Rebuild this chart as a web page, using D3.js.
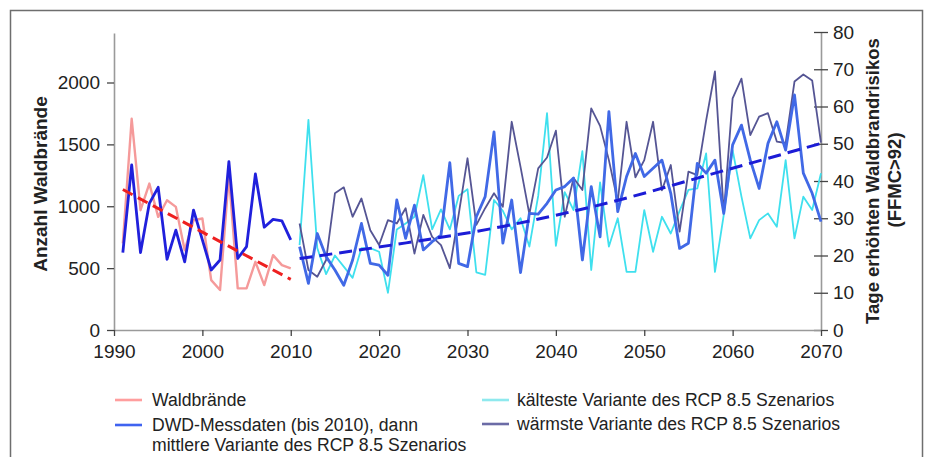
<!DOCTYPE html>
<html><head><meta charset="utf-8">
<script src="https://cdn.jsdelivr.net/npm/d3@7"></script>
<style>
html,body{margin:0;padding:0;background:#fff;}
svg{display:block;font-family:"Liberation Sans",Arial,sans-serif;}
</style></head>
<body>
<svg id="chart" width="926" height="457"></svg>
<script>
// ---------- DATA ----------
const histYears = d3.range(1991, 2011);
const waldbraende = [700,1707,968,1183,914,1048,995,645,887,901,403,323,1250,336,336,551,363,605,524,497];
const dwdMess = [20.8,44.3,20.8,34.0,38.3,19.0,26.8,18.3,32.2,24.2,16.1,18.8,45.2,19.2,22.4,41.9,27.6,29.7,29.3,24.2];

const projYears = d3.range(2011, 2071);
const mittlere = [22.4,12.5,25.9,19.7,16.1,12.0,18.8,28.6,17.9,17.4,14.7,34.9,24.6,33.5,21.5,23.7,25.5,44.9,17.9,17.0,
                  30.4,35.8,53.2,23.3,34.9,15.4,31.3,31.1,34.0,37.6,38.5,40.8,18.8,38.5,25.0,58.6,31.8,41.2,47.4,41.2,
                  43.4,45.6,36.7,21.9,23.3,44.7,42.1,45.6,31.3,49.7,55.0,45.6,38.0,50.1,55.9,48.3,63.1,42.1,36.7,29.1];
const kaelteste = [22.8,56.4,22,15,20,17,14,22,22,21,10,27,28.6,30.4,41.6,27,32.4,27,36,37.8,
                   15.5,14.8,34.9,32,27,30,22.4,36,58.2,22.6,37,32.2,48,16.1,39.6,22.4,30,15.6,15.6,32.2,
                   21.0,30.4,25.9,32,37.6,38,47.4,15.6,31,48.3,35.8,24.6,29.5,31.3,27.7,45.6,24.6,35.8,32.2,42.1];
const waermste = [28.6,16.1,14.3,18.8,36.7,38.3,30.4,35.3,26.8,22.8,29.5,28.6,32.7,20.5,30.9,25.0,22.8,16.6,31,46.1,
                  28.2,32.7,36.7,33.1,55.9,43.8,31.1,43.4,46.3,53.5,30.4,40.8,37.6,59.5,54.8,45.6,34.5,55.9,41.0,45.6,
                  55.9,37.5,44.3,26.4,42.5,41.6,56.2,69.4,31.3,62.2,67.5,52.3,57.3,58.2,50.6,50.2,66.7,68.6,67.0,50.3];

const trendRedYears = [1991, 2010];
const trendRedValues = [1135, 409];
const trendBlueYears = [2011, 2022, 2034, 2046, 2058, 2070];
const trendBlueValues = [19.2, 23.0, 27.8, 34.2, 42.1, 50.1];

const xTicks = [1990,2000,2010,2020,2030,2040,2050,2060,2070];
const leftTicks = [0,500,1000,1500,2000];
const rightTicks = [0,10,20,30,40,50,60,70,80];

const leftTitle = "Anzahl Waldbrände";
const rightTitle1 = "Tage erhöhten Waldbrandrisikos";
const rightTitle2 = "(FFMC>92)";
const legendItems = [
  {label:["Waldbrände"], color:"#ff9e9e"},
  {label:["DWD-Messdaten (bis 2010), dann","mittlere Variante des RCP 8.5 Szenarios"], color:"#3f63f0"},
  {label:["kälteste Variante des RCP 8.5 Szenarios"], color:"#8fe9ee"},
  {label:["wärmste Variante des RCP 8.5 Szenarios"], color:"#6b6ba6"}
];

// ---------- CHART ----------
const svg = d3.select("#chart");
const x = d3.scaleLinear().domain([1990, 2070]).range([114, 821]);
const yL = d3.scaleLinear().domain([0, 2400]).range([330, 33]);
const yR = d3.scaleLinear().domain([0, 80]).range([330, 32]);

// outer frame
svg.append("rect").attr("x",10.5).attr("y",10.5).attr("width",912).attr("height",470)
  .attr("fill","none").attr("stroke","#6e6e6e").attr("stroke-width",1.5);

const tickFont = "19px";
const fmt = d3.format("d");
// left axis
const gL = svg.append("g").attr("transform","translate(114,0)")
  .call(d3.axisLeft(yL).tickValues(leftTicks).tickFormat(fmt).tickSize(7).tickSizeOuter(0).tickPadding(7));
// right axis
const gR = svg.append("g").attr("transform","translate(821,0)")
  .call(d3.axisRight(yR).tickValues(rightTicks).tickFormat(fmt).tickSize(7).tickSizeOuter(0).tickPadding(5));
gR.selectAll(".tick line").attr("x1",-7);
// bottom axis
const gX = svg.append("g").attr("transform","translate(0,330)")
  .call(d3.axisBottom(x).tickValues(xTicks).tickFormat(fmt).tickSize(6).tickSizeOuter(0).tickPadding(9));

[gL,gR,gX].forEach(g=>{
  g.select(".domain").attr("stroke","#9a9a9a").attr("stroke-width",1.6);
  g.selectAll(".tick line").attr("stroke","#444").attr("stroke-width",1.3);
  g.selectAll(".tick text").attr("fill","#222").style("font-size",tickFont)
    .style("font-family",'"Liberation Sans",Arial,sans-serif');
});

// axis titles
svg.append("text").attr("transform","translate(47,184) rotate(-90)")
  .attr("text-anchor","middle").attr("fill","#222").style("font-size","19px").style("font-weight","bold")
  .text(leftTitle);
svg.append("text").attr("transform","translate(879,181) rotate(-90)")
  .attr("text-anchor","middle").attr("fill","#222").style("font-size","18.5px").style("font-weight","bold")
  .text(rightTitle1);
svg.append("text").attr("transform","translate(901,180) rotate(-90)")
  .attr("text-anchor","middle").attr("fill","#222").style("font-size","18.5px").style("font-weight","bold")
  .text(rightTitle2);

// lines
const lineL = (ys, vs) => d3.line().x((d,i)=>x(ys[i])).y((d)=>yL(d))(vs);
const lineR = (ys, vs) => d3.line().x((d,i)=>x(ys[i])).y((d)=>yR(d))(vs);

svg.append("path").attr("d", lineL(histYears, waldbraende))
  .attr("fill","none").attr("stroke","#f59a9a").attr("stroke-width",2.4).attr("stroke-linejoin","round");
svg.append("path").attr("d", lineR(histYears, dwdMess))
  .attr("fill","none").attr("stroke","#2020dc").attr("stroke-width",2.8).attr("stroke-linejoin","round");
svg.append("path").attr("d", lineR(projYears, kaelteste))
  .attr("fill","none").attr("stroke","#3fe0ee").attr("stroke-width",1.8).attr("stroke-linejoin","round");
svg.append("path").attr("d", lineR(projYears, waermste))
  .attr("fill","none").attr("stroke","#555594").attr("stroke-width",1.8).attr("stroke-linejoin","round");
svg.append("path").attr("d", lineR(projYears, mittlere))
  .attr("fill","none").attr("stroke","#4169e6").attr("stroke-width",2.8).attr("stroke-linejoin","round");

// trend lines
svg.append("path").attr("d", lineL(trendRedYears, trendRedValues))
  .attr("fill","none").attr("stroke","#ee2020").attr("stroke-width",3).attr("stroke-dasharray","11,6");
svg.append("path")
  .attr("d", d3.line().x((d,i)=>x(trendBlueYears[i])).y(d=>yR(d)).curve(d3.curveMonotoneX)(trendBlueValues))
  .attr("fill","none").attr("stroke","#1c1cd6").attr("stroke-width",3).attr("stroke-dasharray","13,7");

// legend
const legPos = [
  {lx:115, tx:152, y:400},
  {lx:115, tx:152, y:425},
  {lx:482, tx:517, y:400},
  {lx:482, tx:517, y:424}
];
legendItems.forEach((it,i)=>{
  const p = legPos[i];
  svg.append("line").attr("x1",p.lx).attr("x2",p.lx+27).attr("y1",p.y).attr("y2",p.y)
    .attr("stroke",it.color).attr("stroke-width",2.6);
  it.label.forEach((t,j)=>{
    svg.append("text").attr("x",p.tx).attr("y",p.y+6+j*20).attr("fill","#222")
      .style("font-size","17.6px").text(t);
  });
});
</script>
</body></html>
